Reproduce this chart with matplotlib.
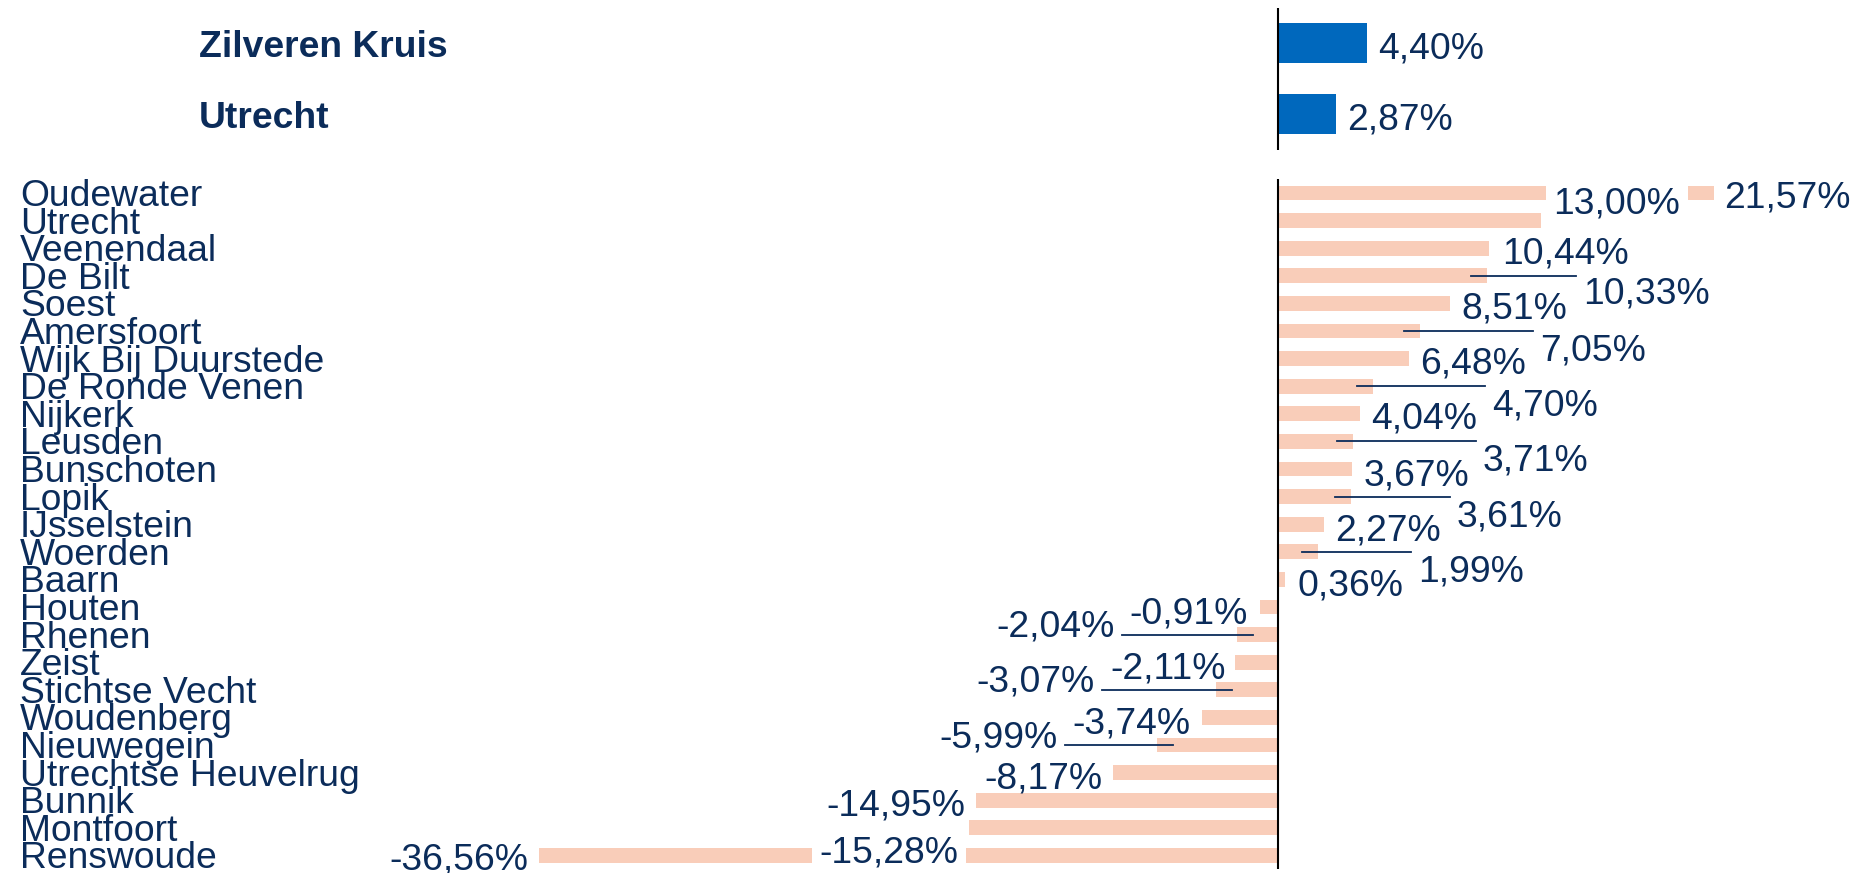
import numpy as np
import matplotlib
matplotlib.use('Agg')
import matplotlib.pyplot as plt

plt.rcParams['font.family'] = ['Liberation Sans', 'DejaVu Sans']

# top block
top_names = ['Zilveren Kruis', 'Utrecht']
top_values = [4.40, 2.87]

# gemeenten, sorted high -> low
names = ['Oudewater', 'Utrecht', 'Veenendaal', 'De Bilt', 'Soest', 'Amersfoort',
         'Wijk Bij Duurstede', 'De Ronde Venen', 'Nijkerk', 'Leusden', 'Bunschoten',
         'Lopik', 'IJsselstein', 'Woerden', 'Baarn', 'Houten', 'Rhenen', 'Zeist',
         'Stichtse Vecht', 'Woudenberg', 'Nieuwegein', 'Utrechtse Heuvelrug',
         'Bunnik', 'Montfoort', 'Renswoude']
values = [21.57, 13.00, 10.44, 10.33, 8.51, 7.05, 6.48, 4.70, 4.04, 3.71, 3.67,
          3.61, 2.27, 1.99, 0.36, -0.91, -2.04, -2.11, -3.07, -3.74, -5.99,
          -8.17, -14.95, -15.28, -36.56]

# label layout (pixels): gap from bar end, baseline shift down, leader line
lab_dx = [10, 13, 13, 96, 11, 120, 11, 119, 12, 130, 11, 106, 11, 100, 12,
          12, 122, 10, 121, 12, 99, 10, 11, 11, 11]
lab_dy = [14, -7, 15, 28, 15, 29, 15, 29, 15, 29, 16, 30, 16, 30, 16,
          16, 2, 16, 2, 16, 2, 16, 15, 35, 14]
leader = [False, False, False, True, False, True, False, True, False, True, False,
          True, False, True, False, False, True, False, True, False, True, False,
          False, False, False]
# labels that sit on top of a neighbouring bar get a white box
knockout = ['Utrecht', 'Montfoort']

navy = '#0B2C5A'
blue = '#0068BD'
peach = '#F9CDB9'
fs = 26.8

W, H = 1857, 873
fig = plt.figure(figsize=(W / 100, H / 100), dpi=100)

def add_px_axes(x0, y0, x1, y1):
    ax = fig.add_axes([x0 / W, 1 - y1 / H, (x1 - x0) / W, (y1 - y0) / H])
    ax.set_axis_off()
    return ax

zero_px, scale = 1278, 20.2
ax_left = 380
xlim = ((ax_left - zero_px) / scale, (W - zero_px) / scale)
pt = 0.72  # points per pixel at dpi 100

def fmt(v):
    return '{:.2f}%'.format(v).replace('.', ',')

# ---- top block
ax1 = add_px_axes(ax_left, 7.5, W, 149.5)
ax1.set_xlim(xlim)
ax1.set_ylim(len(top_names) - 0.5, -0.5)
ax1.barh(range(len(top_names)), top_values, height=0.56, color=blue)
ax1.axvline(0, color='black', lw=1.5)
for i, (n, v) in enumerate(zip(top_names, top_values)):
    ax1.annotate(n, xy=(199 / W, i), xycoords=('figure fraction', 'data'),
                 xytext=(0, -14 * pt), textcoords='offset points',
                 va='baseline', ha='left', fontsize=fs, fontweight='bold', color=navy)
    ax1.annotate(fmt(v), xy=(v, i), xytext=(11 * pt, -15 * pt), textcoords='offset points',
                 va='baseline', ha='left', fontsize=fs, color=navy)

# ---- gemeenten
ax2 = add_px_axes(ax_left, 179.2, W, 869.2)
ax2.set_xlim(xlim)
ax2.set_ylim(len(names) - 0.5, -0.5)
ax2.barh(range(len(names)), values, height=0.54, color=peach, zorder=1)
ax2.axvline(0, color='black', lw=1.5, zorder=6)

for i, (n, v) in enumerate(zip(names, values)):
    ax2.annotate(n, xy=(20 / W, i), xycoords=('figure fraction', 'data'),
                 xytext=(0, -13 * pt), textcoords='offset points',
                 va='baseline', ha='left', fontsize=fs, color=navy)
    sign = 1 if v >= 0 else -1
    box = None
    if n in knockout:
        box = dict(boxstyle='square,pad=0.2', fc='white', ec='none')
    ax2.annotate(fmt(v), xy=(v, i), xytext=(sign * lab_dx[i] * pt, -lab_dy[i] * pt),
                 textcoords='offset points', va='baseline',
                 ha='left' if v >= 0 else 'right', fontsize=fs, color=navy, zorder=3,
                 bbox=box)
    if leader[i]:
        x0 = v - sign * 16 / scale
        x1 = v + sign * (lab_dx[i] - 7) / scale
        ax2.plot([x0, x1], [i, i], color=navy, lw=1.3, zorder=5)

fig.savefig('out.png', dpi=100)
